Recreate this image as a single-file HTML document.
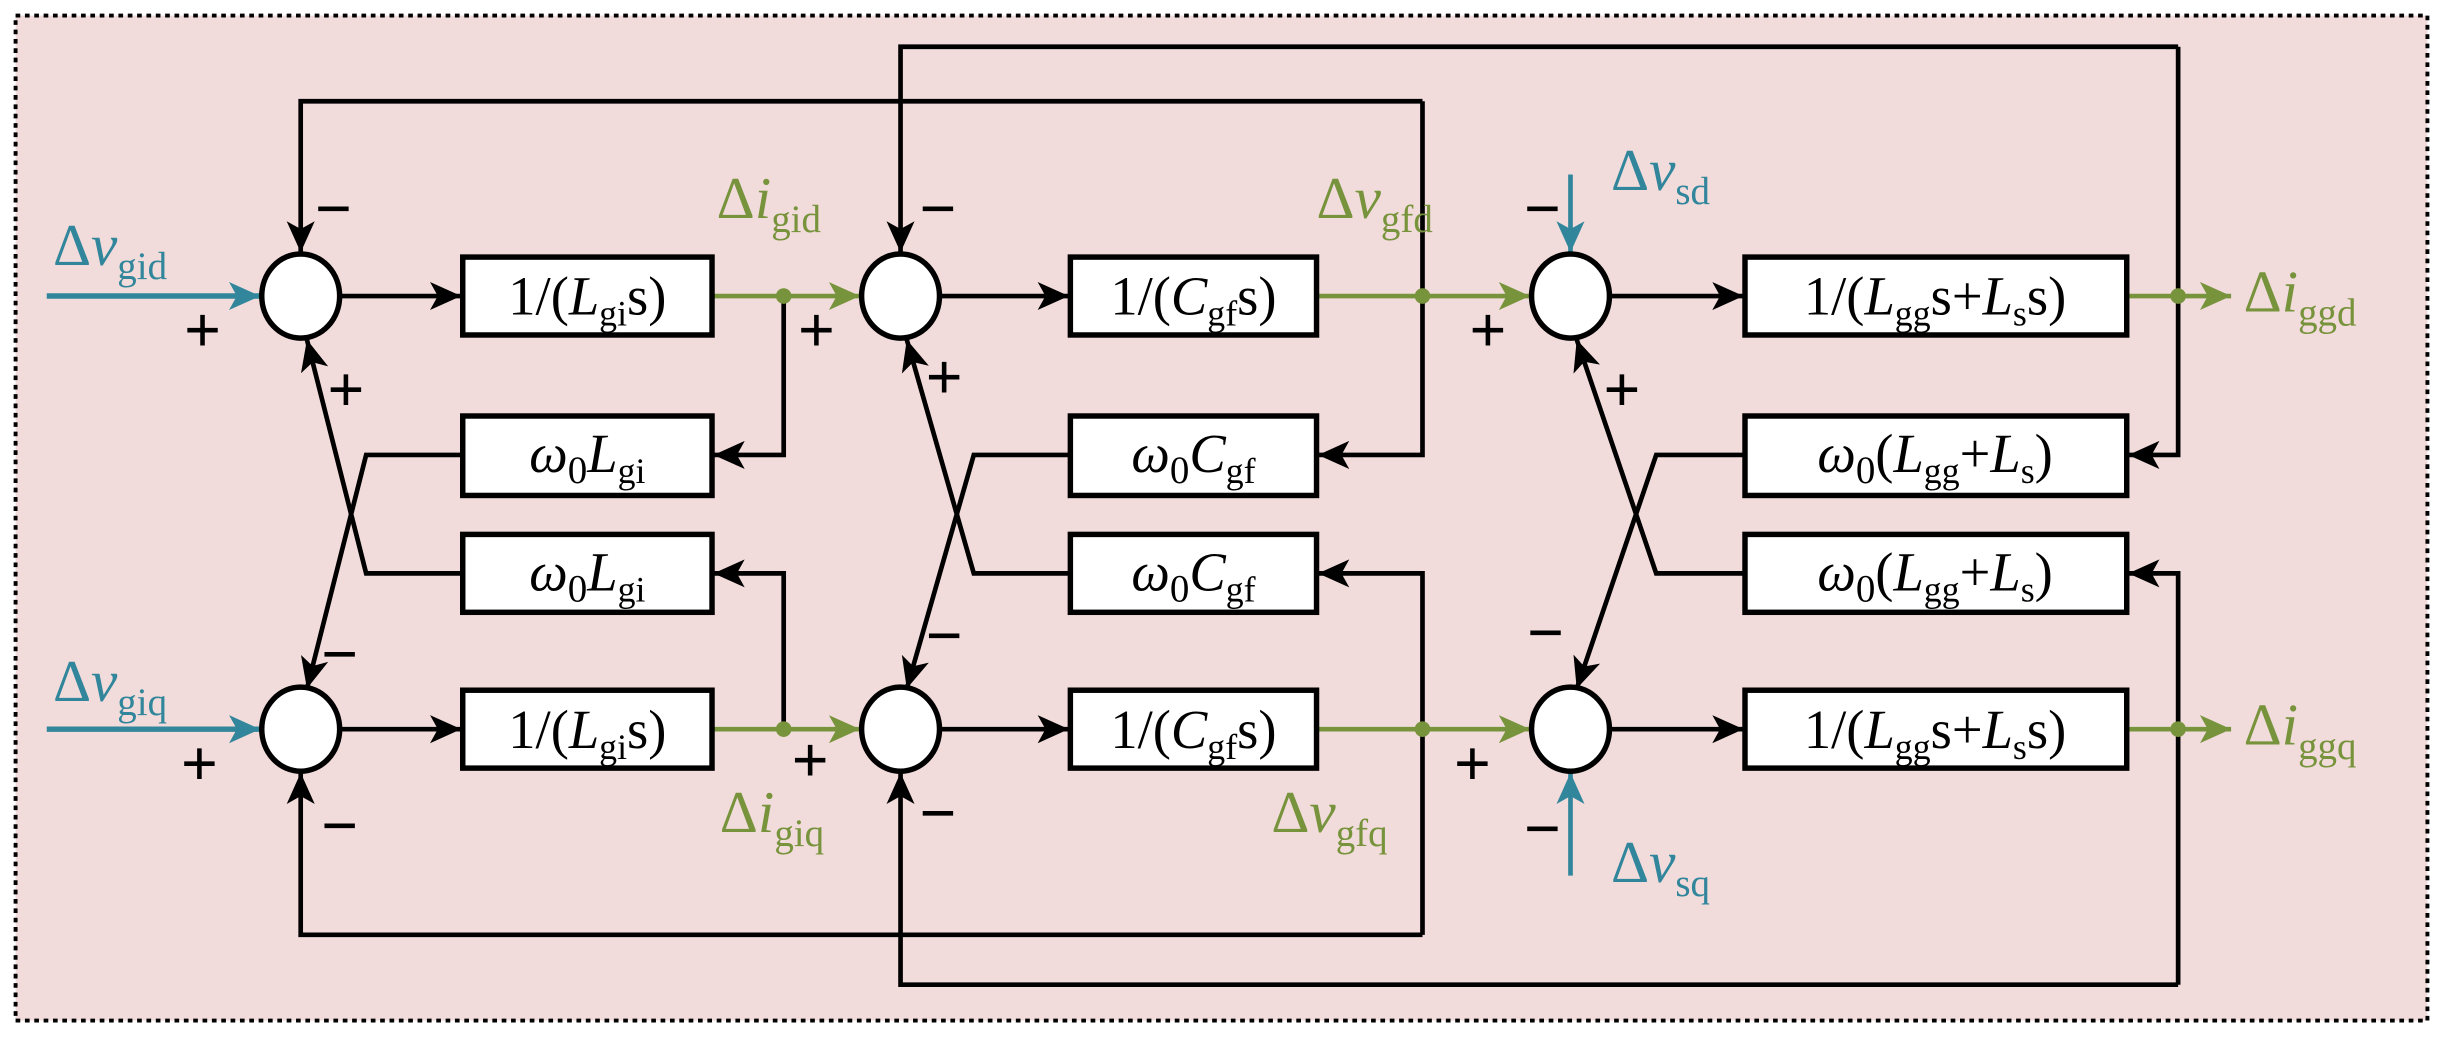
<!DOCTYPE html>
<html><head><meta charset="utf-8"><style>
html,body{margin:0;padding:0;background:#fff}
svg{display:block}
text{font-family:"Liberation Serif",serif}
</style></head><body>
<svg width="2443" height="1040" viewBox="0 0 1568 667.5" preserveAspectRatio="none" xmlns="http://www.w3.org/2000/svg">
<defs>
<marker id="ab" markerUnits="userSpaceOnUse" markerWidth="22" markerHeight="20" refX="20" refY="10" orient="auto"><path d="M0,1 L20,10 L0,19 L5,10 Z" fill="#000"/></marker>
<marker id="at" markerUnits="userSpaceOnUse" markerWidth="22" markerHeight="20" refX="20" refY="10" orient="auto"><path d="M0,1 L20,10 L0,19 L5,10 Z" fill="#31869b"/></marker>
<marker id="ag" markerUnits="userSpaceOnUse" markerWidth="22" markerHeight="20" refX="20" refY="10" orient="auto"><path d="M0,1 L20,10 L0,19 L5,10 Z" fill="#77933c"/></marker>
</defs>
<rect x="10" y="10" width="1548" height="645" fill="#f2dcdb" stroke="#000" stroke-width="2.5" stroke-dasharray="3,3"/>
<g fill="none" stroke="#000" stroke-width="3">
<path d="M30 190 H167" stroke="#31869b" stroke-width="3.5" marker-end="url(#at)"/>
<path d="M30 468 H167" stroke="#31869b" stroke-width="3.5" marker-end="url(#at)"/>
<path d="M1008 112 V162" stroke="#31869b" stroke-width="3" marker-end="url(#at)"/>
<path d="M1008 562 V496" stroke="#31869b" stroke-width="3" marker-end="url(#at)"/>
<path d="M218 190 H296" marker-end="url(#ab)"/>
<path d="M218 468 H296" marker-end="url(#ab)"/>
<path d="M457 190 H552" stroke="#77933c" marker-end="url(#ag)"/>
<path d="M457 468 H552" stroke="#77933c" marker-end="url(#ag)"/>
<path d="M503 190 V292 H458" marker-end="url(#ab)"/>
<path d="M503 468 V368 H458" marker-end="url(#ab)"/>
<path d="M297 292 H235 L197 442" marker-end="url(#ab)"/>
<path d="M297 368 H235 L197 218" marker-end="url(#ab)"/>
<path d="M913 65 H193 V162" marker-end="url(#ab)"/>
<path d="M913 65 V292 H846" marker-end="url(#ab)"/>
<path d="M913 600 H193 V496" marker-end="url(#ab)"/>
<path d="M913 600 V368 H846" marker-end="url(#ab)"/>
<path d="M603 190 H686" marker-end="url(#ab)"/>
<path d="M603 468 H686" marker-end="url(#ab)"/>
<path d="M845 190 H982" stroke="#77933c" marker-end="url(#ag)"/>
<path d="M845 468 H982" stroke="#77933c" marker-end="url(#ag)"/>
<path d="M687 292 H625 L582 442" marker-end="url(#ab)"/>
<path d="M687 368 H625 L582 218" marker-end="url(#ab)"/>
<path d="M1398 30 H578 V162" marker-end="url(#ab)"/>
<path d="M1398 30 V292 H1366" marker-end="url(#ab)"/>
<path d="M1398 632 H578 V496" marker-end="url(#ab)"/>
<path d="M1398 632 V368 H1366" marker-end="url(#ab)"/>
<path d="M1033 190 H1119" marker-end="url(#ab)"/>
<path d="M1033 468 H1119" marker-end="url(#ab)"/>
<path d="M1365 190 H1432" stroke="#77933c" marker-end="url(#ag)"/>
<path d="M1365 468 H1432" stroke="#77933c" marker-end="url(#ag)"/>
<path d="M1120 292 H1063 L1012 442" marker-end="url(#ab)"/>
<path d="M1120 368 H1063 L1012 218" marker-end="url(#ab)"/>
</g>
<g fill="#77933c">
<circle cx="503" cy="190" r="5"/><circle cx="503" cy="468" r="5"/>
<circle cx="913" cy="190" r="5"/><circle cx="913" cy="468" r="5"/>
<circle cx="1398" cy="190" r="5"/><circle cx="1398" cy="468" r="5"/>
</g>
<g fill="#fff" stroke="#000" stroke-width="3.5">
<ellipse cx="193" cy="190" rx="25" ry="27"/><ellipse cx="193" cy="468" rx="25" ry="27"/>
<ellipse cx="578" cy="190" rx="25" ry="27"/><ellipse cx="578" cy="468" rx="25" ry="27"/>
<ellipse cx="1008" cy="190" rx="25" ry="27"/><ellipse cx="1008" cy="468" rx="25" ry="27"/>
<rect x="297" y="165" width="160" height="50"/><rect x="297" y="443" width="160" height="50"/>
<rect x="297" y="267" width="160" height="51"/><rect x="297" y="343" width="160" height="50"/>
<rect x="687" y="165" width="158" height="50"/><rect x="687" y="443" width="158" height="50"/>
<rect x="687" y="267" width="158" height="51"/><rect x="687" y="343" width="158" height="50"/>
<rect x="1120" y="165" width="245" height="50"/><rect x="1120" y="443" width="245" height="50"/>
<rect x="1120" y="267" width="245" height="51"/><rect x="1120" y="343" width="245" height="50"/>
</g>
<g font-size="35" fill="#000" text-anchor="middle">
<text x="377" y="202">1/(<tspan font-style="italic">L</tspan><tspan font-size="23" dy="7">gi</tspan><tspan dy="-7">s)</tspan></text>
<text x="377" y="480">1/(<tspan font-style="italic">L</tspan><tspan font-size="23" dy="7">gi</tspan><tspan dy="-7">s)</tspan></text>
<text x="377" y="303"><tspan font-style="italic">ω</tspan><tspan font-size="25" dy="7">0</tspan><tspan font-style="italic" dy="-7">L</tspan><tspan font-size="23" dy="7">gi</tspan></text>
<text x="377" y="379"><tspan font-style="italic">ω</tspan><tspan font-size="25" dy="7">0</tspan><tspan font-style="italic" dy="-7">L</tspan><tspan font-size="23" dy="7">gi</tspan></text>
<text x="766" y="202">1/(<tspan font-style="italic">C</tspan><tspan font-size="23" dy="7">gf</tspan><tspan dy="-7">s)</tspan></text>
<text x="766" y="480">1/(<tspan font-style="italic">C</tspan><tspan font-size="23" dy="7">gf</tspan><tspan dy="-7">s)</tspan></text>
<text x="766" y="303"><tspan font-style="italic">ω</tspan><tspan font-size="25" dy="7">0</tspan><tspan font-style="italic" dy="-7">C</tspan><tspan font-size="23" dy="7">gf</tspan></text>
<text x="766" y="379"><tspan font-style="italic">ω</tspan><tspan font-size="25" dy="7">0</tspan><tspan font-style="italic" dy="-7">C</tspan><tspan font-size="23" dy="7">gf</tspan></text>
<text x="1242" y="202">1/(<tspan font-style="italic">L</tspan><tspan font-size="23" dy="7">gg</tspan><tspan dy="-7">s+</tspan><tspan font-style="italic">L</tspan><tspan font-size="23" dy="7">s</tspan><tspan dy="-7">s)</tspan></text>
<text x="1242" y="480">1/(<tspan font-style="italic">L</tspan><tspan font-size="23" dy="7">gg</tspan><tspan dy="-7">s+</tspan><tspan font-style="italic">L</tspan><tspan font-size="23" dy="7">s</tspan><tspan dy="-7">s)</tspan></text>
<text x="1242" y="303"><tspan font-style="italic">ω</tspan><tspan font-size="25" dy="7">0</tspan><tspan dy="-7">(</tspan><tspan font-style="italic">L</tspan><tspan font-size="23" dy="7">gg</tspan><tspan dy="-7">+</tspan><tspan font-style="italic">L</tspan><tspan font-size="23" dy="7">s</tspan><tspan dy="-7">)</tspan></text>
<text x="1242" y="379"><tspan font-style="italic">ω</tspan><tspan font-size="25" dy="7">0</tspan><tspan dy="-7">(</tspan><tspan font-style="italic">L</tspan><tspan font-size="23" dy="7">gg</tspan><tspan dy="-7">+</tspan><tspan font-style="italic">L</tspan><tspan font-size="23" dy="7">s</tspan><tspan dy="-7">)</tspan></text>
</g>
<g font-size="38">
<text x="34" y="170" fill="#31869b">Δ<tspan font-style="italic">v</tspan><tspan font-size="25" dy="9">gid</tspan></text>
<text x="34" y="450" fill="#31869b">Δ<tspan font-style="italic">v</tspan><tspan font-size="25" dy="9">giq</tspan></text>
<text x="1034" y="122" fill="#31869b">Δ<tspan font-style="italic">v</tspan><tspan font-size="25" dy="9">sd</tspan></text>
<text x="1034" y="566" fill="#31869b">Δ<tspan font-style="italic">v</tspan><tspan font-size="25" dy="9">sq</tspan></text>
<text x="460" y="140" fill="#77933c">Δ<tspan font-style="italic">i</tspan><tspan font-size="25" dy="9">gid</tspan></text>
<text x="462" y="534" fill="#77933c">Δ<tspan font-style="italic">i</tspan><tspan font-size="25" dy="9">giq</tspan></text>
<text x="845" y="140" fill="#77933c">Δ<tspan font-style="italic">v</tspan><tspan font-size="25" dy="9">gfd</tspan></text>
<text x="816" y="534" fill="#77933c">Δ<tspan font-style="italic">v</tspan><tspan font-size="25" dy="9">gfq</tspan></text>
<text x="1440" y="200" fill="#77933c">Δ<tspan font-style="italic">i</tspan><tspan font-size="25" dy="9">ggd</tspan></text>
<text x="1440" y="478" fill="#77933c">Δ<tspan font-style="italic">i</tspan><tspan font-size="25" dy="9">ggq</tspan></text>
</g>
<g font-family="Liberation Sans, sans-serif" font-size="42" font-weight="bold" fill="#000" text-anchor="middle">
<text x="214" y="148">−</text><text x="130" y="226">+</text><text x="222" y="264">+</text>
<text x="218" y="434">−</text><text x="128" y="504">+</text><text x="218" y="544">−</text>
<text x="602" y="148">−</text><text x="524" y="226">+</text><text x="606" y="256">+</text>
<text x="606" y="422">−</text><text x="520" y="502">+</text><text x="602" y="536">−</text>
<text x="990" y="148">−</text><text x="955" y="226">+</text><text x="1041" y="264">+</text>
<text x="992" y="420">−</text><text x="945" y="504">+</text><text x="990" y="546">−</text>
</g>
</svg>
</body></html>
